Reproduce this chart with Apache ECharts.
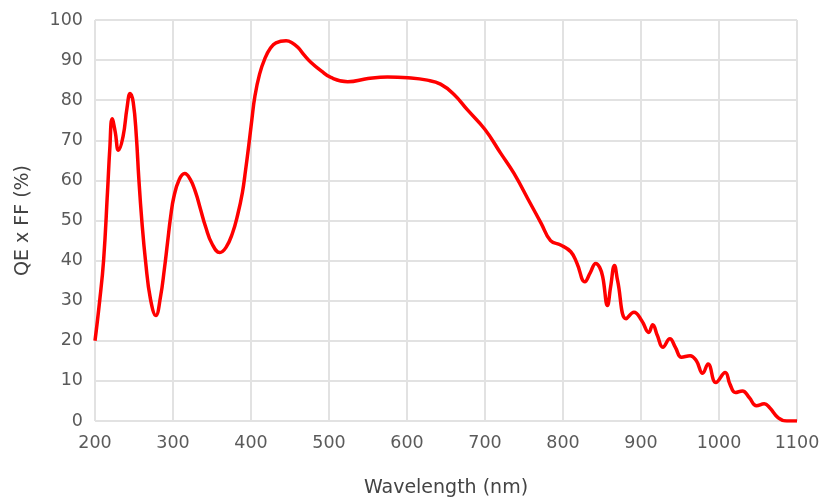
<!DOCTYPE html>
<html>
<head>
<meta charset="utf-8">
<script src="https://cdn.jsdelivr.net/npm/echarts@6/dist/echarts.min.js"></script>
<style>html,body{margin:0;padding:0;background:#fff}#c{width:831px;height:504px}</style>
</head>
<body>
<div id="c"></div>
<script>
const wavelengths = [200, 206, 211, 216, 219, 222, 226, 230, 236, 241, 245, 249, 253, 256, 260, 265, 271, 278, 284, 289, 293, 297, 301, 308, 315, 322, 329, 335, 342, 350, 360, 368, 376, 383, 389, 393, 397, 401, 405, 411, 418, 425, 432, 445, 452, 460, 468, 477, 490, 503, 524, 550, 575, 601, 626, 643, 660, 677, 700, 720, 737, 758, 772, 784, 797, 810, 818, 828, 835, 842, 847, 851, 857, 861, 866, 870, 881, 891, 901, 910, 915, 921, 928, 937, 944, 952, 963, 971, 979, 986, 996, 1008, 1014, 1021, 1030, 1039, 1048, 1058, 1065, 1076, 1087, 1100];
const qeff = [20, 30, 40, 57, 68, 75.4, 72, 67.5, 71, 78, 81.7, 79.5, 71, 61, 50, 39.5, 30.5, 26.3, 31, 38, 44.5, 51, 55.8, 60.2, 61.7, 60.3, 57, 53, 48.3, 44.2, 42, 43.3, 46.7, 51.5, 57, 62.5, 68.5, 75, 81, 86.5, 90.5, 93, 94.3, 94.8, 94.4, 93.2, 91.3, 89.4, 87.3, 85.6, 84.6, 85.4, 85.8, 85.6, 85, 84, 81.5, 77.7, 72.7, 66.8, 61.8, 54.3, 49.3, 45, 43.9, 42.2, 39.3, 34.7, 37, 39.3, 38.3, 35.9, 28.8, 33.4, 38.8, 35, 25.5, 27.1, 25, 22.1, 24, 21.3, 18.4, 20.5, 18.4, 15.9, 16.3, 15, 11.9, 14.2, 9.6, 12.1, 9.2, 7.1, 7.5, 5.8, 3.8, 4.3, 3.3, 0.8, 0, 0];
const xTitle = 'Wavelength (nm)';
const yTitle = 'QE x FF (%)';

const chart = echarts.init(document.getElementById('c'));
const font = '"DejaVu Sans", "Noto Sans", sans-serif';
chart.setOption({
  animation: false,
  grid: { left: 95, right: 34, top: 20, bottom: 83 },
  xAxis: {
    type: 'value', min: 200, max: 1100, interval: 100,
    name: xTitle, nameLocation: 'middle', nameGap: 58,
    nameTextStyle: { fontSize: 19, color: '#444', fontFamily: font },
    axisLine: { show: false }, axisTick: { show: false },
    axisLabel: { fontSize: 17.5, color: '#5a5a5a', margin: 13, fontFamily: font, formatter: v => String(v) },
    splitLine: { show: true, lineStyle: { color: '#e2e2e2', width: 2 } }
  },
  yAxis: {
    type: 'value', min: 0, max: 100, interval: 10,
    name: yTitle, nameLocation: 'middle', nameGap: 62, nameRotate: 90,
    nameTextStyle: { fontSize: 19, color: '#444', fontFamily: font },
    axisLine: { show: false }, axisTick: { show: false },
    axisLabel: { fontSize: 17.5, color: '#5a5a5a', margin: 12, fontFamily: font },
    splitLine: { show: true, lineStyle: { color: '#e2e2e2', width: 2 } }
  },
  series: [{
    type: 'line',
    data: wavelengths.map((w, i) => [w, qeff[i]]),
    showSymbol: false,
    smooth: 0.45,
    lineStyle: { color: '#ff0000', width: 3.5 },
    itemStyle: { color: '#ff0000' }
  }]
});
</script>
</body>
</html>
